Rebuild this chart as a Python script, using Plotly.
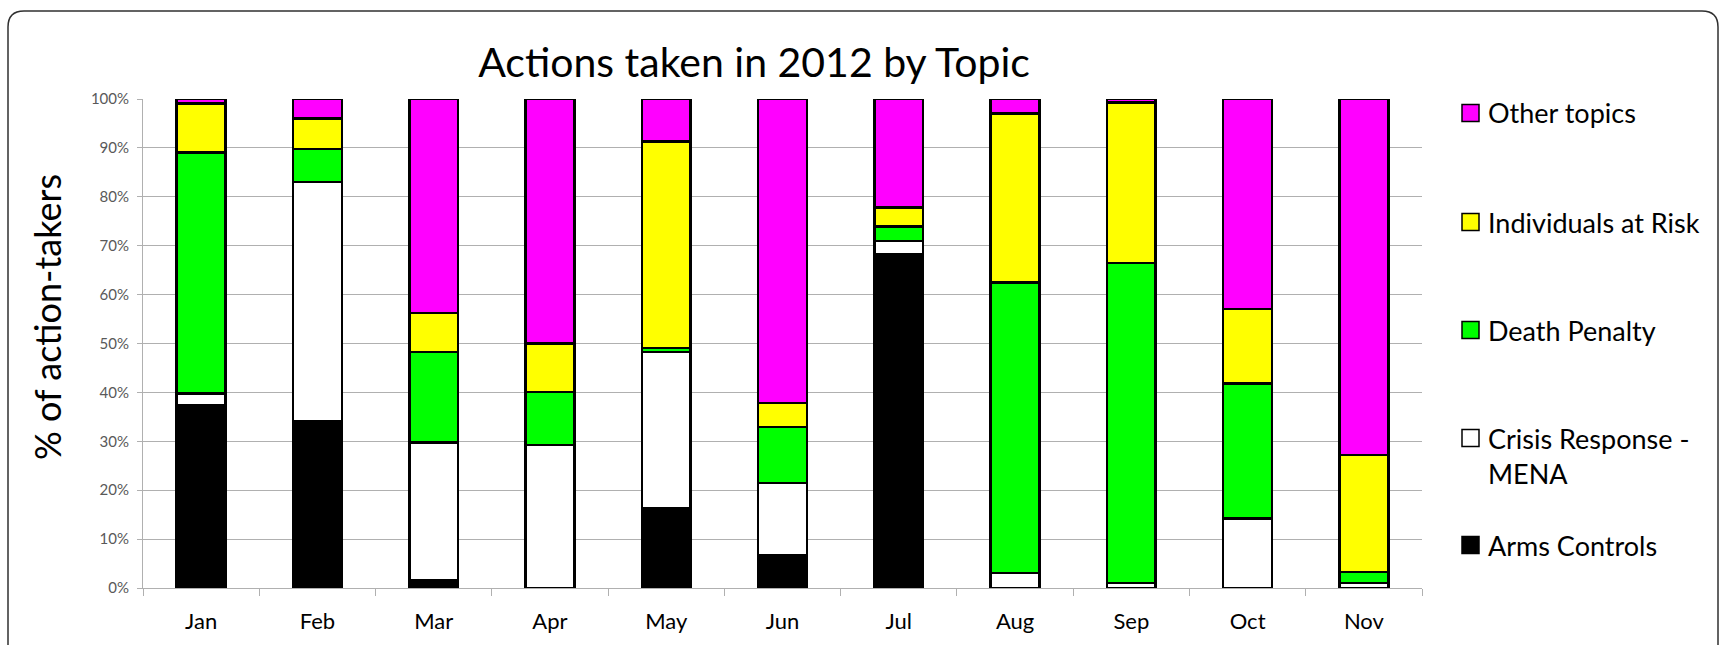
import plotly.graph_objects as go

months = ["Jan", "Feb", "Mar", "Apr", "May", "Jun", "Jul", "Aug", "Sep", "Oct", "Nov"]
arms_controls = [37.4, 34.2, 1.6, 0.0, 16.4, 6.6, 68.3, 0.0, 0.0, 0.0, 0.0]
crisis_response = [2.4, 48.8, 28.2, 29.2, 31.9, 14.9, 2.7, 3.1, 1.0, 14.2, 1.0]
death_penalty = [49.3, 6.8, 18.5, 10.9, 0.8, 11.4, 2.9, 59.4, 65.5, 27.6, 2.3]
individuals_at_risk = [10.0, 6.2, 7.9, 9.9, 42.2, 4.9, 3.9, 34.5, 32.8, 15.3, 23.9]
other_topics = [0.9, 4.0, 43.8, 50.0, 8.7, 62.2, 22.2, 3.0, 0.7, 42.9, 72.8]

y_tick_values = [0, 10, 20, 30, 40, 50, 60, 70, 80, 90, 100]
y_tick_labels = ["0%", "10%", "20%", "30%", "40%", "50%", "60%", "70%", "80%", "90%", "100%"]

series_names = ["Arms Controls", "Crisis Response -<br>MENA", "Death Penalty",
                "Individuals at Risk", "Other topics"]
series_values = [arms_controls, crisis_response, death_penalty, individuals_at_risk, other_topics]
series_colors = ["#000000", "#FFFFFF", "#00FF00", "#FFFF00", "#FF00FF"]

FONT = "Lato"
W, H = 1721, 645
L, R, T, B = 143, 1422, 99, 588


def px_x(x):
    return (x - L) / (R - L)


def px_y(y):
    return (B - y) / (B - T)


fig = go.Figure()
for name, vals, col in zip(series_names, series_values, series_colors):
    fig.add_trace(go.Bar(
        x=months, y=vals, name=name.replace("<br>", " "),
        marker=dict(color=col, line=dict(color="#000000", width=2.5)),
        showlegend=False,
    ))

# manual legend (top entry = last series)
legend_y = [545, 438, 330, 222, 113]
LEG_SIZE = 27
for name, col, yc in zip(series_names, series_colors, legend_y):
    fig.add_shape(type="rect", xref="paper", yref="paper",
                  x0=px_x(1462), x1=px_x(1479), y0=px_y(yc + 8.5), y1=px_y(yc - 8.5),
                  fillcolor=col, line=dict(color="#000000", width=1.5))
    lines = name.split("<br>")
    for i, line in enumerate(lines):
        fig.add_annotation(xref="paper", yref="paper", x=px_x(1486), y=px_y(yc + 35 * i),
                           text=line, showarrow=False, xanchor="left", yanchor="middle",
                           font=dict(family=FONT, size=LEG_SIZE, color="#000000"))

# y axis title
fig.add_annotation(xref="paper", yref="paper", x=px_x(47), y=px_y(317),
                   text="% of action-takers", showarrow=False, textangle=-90,
                   xanchor="center", yanchor="middle",
                   font=dict(family=FONT, size=36, color="#000000"))

# rounded chart border
r = 16
x0, y0, x1, y1 = 8, 11, 1718, 700
path = (f"M {px_x(x0)} {px_y(y1)} L {px_x(x0)} {px_y(y0 + r)} "
        f"Q {px_x(x0)} {px_y(y0)} {px_x(x0 + r)} {px_y(y0)} "
        f"L {px_x(x1 - r)} {px_y(y0)} Q {px_x(x1)} {px_y(y0)} {px_x(x1)} {px_y(y0 + r)} "
        f"L {px_x(x1)} {px_y(y1)}")
fig.add_shape(type="path", xref="paper", yref="paper", path=path,
              line=dict(color="#303030", width=1.5))

fig.update_layout(
    width=W, height=H,
    margin=dict(l=L, r=W - R, t=T, b=H - B),
    barmode="stack", bargap=0.58,
    paper_bgcolor="#FFFFFF", plot_bgcolor="#FFFFFF",
    title=dict(text="Actions taken in 2012 by Topic", x=px_x(754), xref="paper", xanchor="center",
               y=1 - 63 / H, yref="container", yanchor="middle",
               font=dict(family=FONT, size=41, color="#000000")),
    xaxis=dict(showline=True, linecolor="#B0B0B0", linewidth=1, ticks="outside",
               tickson="boundaries", ticklen=7, tickcolor="#B0B0B0", showgrid=False,
               ticklabelstandoff=14,
               tickfont=dict(family=FONT, size=22, color="#000000")),
    yaxis=dict(range=[0, 100], tickmode="array", tickvals=y_tick_values, ticktext=y_tick_labels,
               showline=True, linecolor="#B0B0B0", linewidth=1, ticks="outside", ticklen=5,
               tickcolor="#B0B0B0", gridcolor="#B0B0B0", gridwidth=1, zeroline=False,
               ticklabelstandoff=5,
               tickfont=dict(family=FONT, size=15, color="#595959")),
)

fig.write_html("out.html")
